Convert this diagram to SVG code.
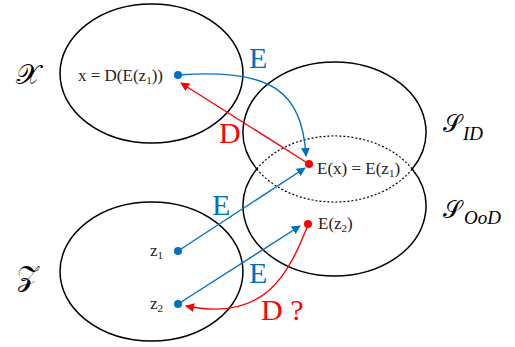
<svg xmlns="http://www.w3.org/2000/svg" width="515" height="347" viewBox="0 0 515 347" style="font-family:'Liberation Serif',serif">
<defs>
<marker id="ab" viewBox="0 0 10 10" refX="9" refY="5" markerWidth="9" markerHeight="9" markerUnits="userSpaceOnUse" orient="auto"><path d="M0,0 L10,5 L0,10 z" fill="#0070C0"/></marker>
<marker id="ar" viewBox="0 0 10 10" refX="9" refY="5" markerWidth="9" markerHeight="9" markerUnits="userSpaceOnUse" orient="auto"><path d="M0,0 L10,5 L0,10 z" fill="#FF0000"/></marker>
</defs>
<style>
.el{fill:none;stroke:#000;stroke-width:1.5}
.dot{fill:none;stroke:#000;stroke-width:1.2;stroke-dasharray:2 2}
.t{font-size:17px;fill:#222}
.s{font-size:11px}
.big{font-size:30px}
.bl{fill:#0070C0}
.rd{fill:#FF0000}
.m{font-size:28px;fill:#000}
.ms{font-size:24px;fill:#000}
.mi{font-style:italic;font-size:19px;fill:#000}
.cb{fill:none;stroke:#0070C0;stroke-width:1.4}
.cr{fill:none;stroke:#FF0000;stroke-width:1.4}
</style>
<g id="setX"><ellipse class="el" cx="151.5" cy="73.5" rx="91.5" ry="69.5"/><text class="m" x="16" y="84">𝒳</text></g>
<g id="setZ"><ellipse class="el" cx="151.5" cy="271.5" rx="91.5" ry="69.5"/><text class="m" x="17" y="286">𝒵</text></g>
<g id="setID">
<path class="el" d="M256.8,169 A91.5,70 0 1 1 412.2,169"/>
<path class="dot" d="M256.8,169 A91.5,70 0 0 0 412.2,169"/>
<text class="ms" x="443" y="132">𝒮</text><text class="mi" x="463" y="140">ID</text>
</g>
<g id="setOoD">
<path class="el" d="M256.8,169 A91.5,70 0 1 0 412.2,169"/>
<path class="dot" d="M256.8,169 A91.5,70 0 0 1 412.2,169"/>
<text class="ms" x="443" y="218">𝒮</text><text class="mi" x="464" y="224">OoD</text>
</g>
<g id="connectors">
<path class="cb" d="M178,75 C270,68 302,90 306,156" marker-end="url(#ab)"/>
<path class="cr" d="M309,164 L181,83" marker-end="url(#ar)"/>
<path class="cb" d="M178,251 L305,168" marker-end="url(#ab)"/>
<path class="cb" d="M178,304 L300,226" marker-end="url(#ab)"/>
<path class="cr" d="M308,225 C288,275 265,322 186,306" marker-end="url(#ar)"/>
<text class="big bl" x="249" y="68">E</text>
<text class="big rd" x="219" y="143">D</text>
<text class="big bl" x="212" y="215">E</text>
<text class="big bl" x="249" y="283">E</text>
<text class="big rd" x="261" y="320">D ?</text>
</g>
<g id="nodeX"><circle cx="178" cy="75" r="4" fill="#0070C0"/><text class="t" x="78" y="81">x = D(E(z<tspan class="s" dy="3">1</tspan><tspan dy="-3">))</tspan></text></g>
<g id="nodeEx"><circle cx="309" cy="164" r="4" fill="#FF0000"/><text class="t" x="317" y="174">E(x) = E(z<tspan class="s" dy="3">1</tspan><tspan dy="-3">)</tspan></text></g>
<g id="nodeEz2"><circle cx="308" cy="224" r="4" fill="#FF0000"/><text class="t" x="318" y="229">E(z<tspan class="s" dy="3">2</tspan><tspan dy="-3">)</tspan></text></g>
<g id="nodeZ1"><circle cx="178" cy="251" r="4" fill="#0070C0"/><text class="t" x="150" y="256">z<tspan class="s" dy="3">1</tspan></text></g>
<g id="nodeZ2"><circle cx="178" cy="304" r="4" fill="#0070C0"/><text class="t" x="150" y="309">z<tspan class="s" dy="3">2</tspan></text></g>
</svg>
